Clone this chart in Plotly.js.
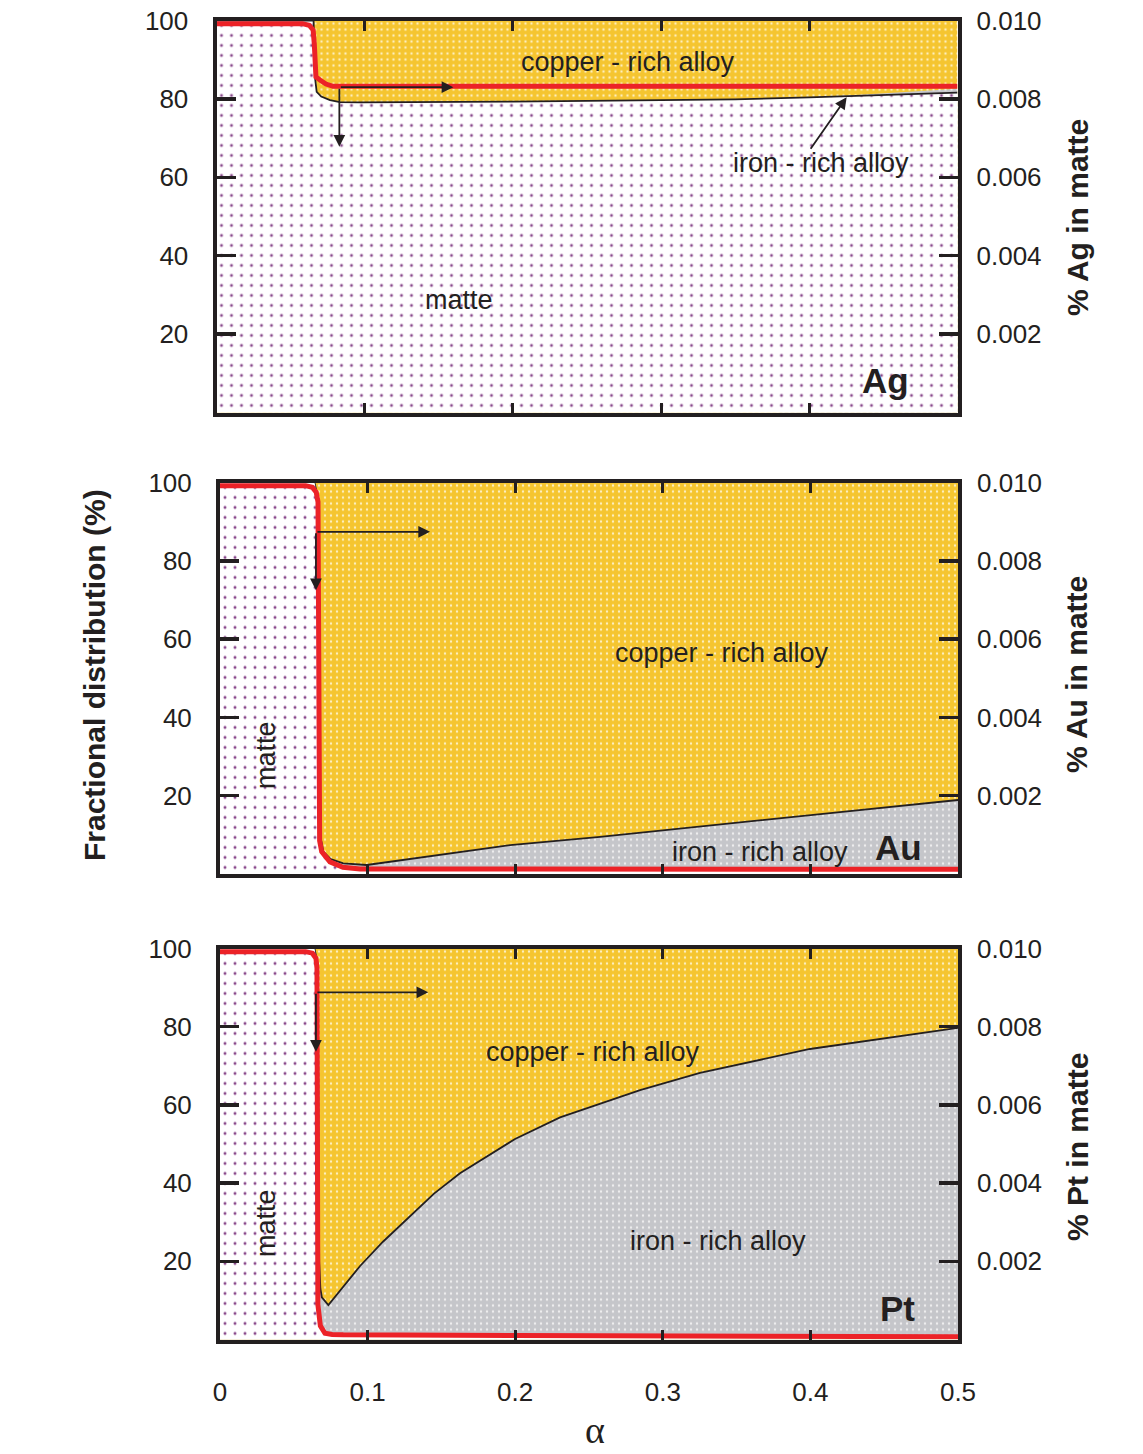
<!DOCTYPE html>
<html><head><meta charset="utf-8">
<script src="https://cdn.plot.ly/plotly-3.0.1.min.js"></script>
<style>html,body{margin:0;padding:0;background:#fff}</style>
</head><body><div id="chart" style="width:1143px;height:1454px"></div>
<script>
// ---------- data (alpha on x; % fractional distribution; % metal in matte) ----------
const alphaFull = [0, 0.5];
const totalPct = [100, 100];

// Ag panel
const agMatteAlpha = [0, 0.0655, 0.0666, 0.0676, 0.0707, 0.0766, 0.0833, 0.0968, 0.2, 0.3, 0.35, 0.4, 0.45, 0.5];
const agMatteTop   = [100, 100, 85, 81.8, 80.6, 79.7, 79.2, 79.1, 79.3, 79.7, 79.9, 80.4, 81.0, 81.6];
const agIronAlpha  = [0.38, 0.41, 0.44, 0.47, 0.5];
const agIronTop    = [80.2, 80.55, 81.2, 81.9, 82.6];
const agRedAlpha   = [0, 0.058, 0.0625, 0.0652, 0.0660, 0.0662, 0.0665, 0.0671, 0.0698, 0.0739, 0.0786, 0.5];
const agInMatte    = [0.00992, 0.00992, 0.00988, 0.00976, 0.0094, 0.0089, 0.00866, 0.00856, 0.00848, 0.00838, 0.00832, 0.00832];

// Au panel
const auMatteAlpha = [0, 0.064, 0.066, 0.0664, 0.0667, 0.0672, 0.0689, 0.0745, 0.0833, 0.095, 0.5];
const auMatteTop   = [100, 100, 97, 60, 20, 9.5, 5.7, 3.1, 1.7, 1.2, 1.1];
const auIronAlpha  = [0, 0.064, 0.0664, 0.0667, 0.0670, 0.0678, 0.0700, 0.0750, 0.0836, 0.0994, 0.15, 0.1965, 0.2575, 0.35, 0.42, 0.5];
const auIronTop    = [100, 100, 96, 60, 25, 10, 5.7, 3.8, 2.7, 2.3, 5.0, 7.4, 9.5, 13.0, 15.8, 18.9];
const auRedAlpha   = [0, 0.058, 0.0625, 0.0652, 0.0664, 0.0666, 0.0667, 0.0669, 0.0675, 0.0689, 0.0745, 0.0833, 0.0949, 0.5];
const auInMatte    = [0.00992, 0.00992, 0.00988, 0.00975, 0.0095, 0.006, 0.003, 0.0012, 0.00085, 0.00057, 0.00031, 0.00017, 0.00013, 0.00012];

// Pt panel
const ptMatteAlpha = [0, 0.064, 0.0658, 0.0662, 0.0665, 0.0670, 0.0685, 0.075, 0.085, 0.5];
const ptMatteTop   = [100, 100, 97, 60, 20, 6, 3, 1.2, 0.8, 0.5];
const ptIronAlpha  = [0, 0.064, 0.0662, 0.0665, 0.0672, 0.0680, 0.0690, 0.0734, 0.0813, 0.0949, 0.1104, 0.1287, 0.145, 0.1626, 0.1999, 0.2304, 0.2846, 0.3252, 0.3997, 0.5];
const ptIronTop    = [100, 100, 96, 60, 20, 13, 10.8, 8.8, 12.5, 18.8, 25.0, 31.6, 37.3, 42.5, 51.3, 56.8, 63.8, 68.2, 74.3, 79.7];
const ptRedAlpha   = [0, 0.058, 0.0625, 0.0650, 0.0657, 0.0659, 0.0660, 0.0663, 0.0680, 0.0711, 0.0760, 0.0835, 0.2, 0.5];
const ptInMatte    = [0.00992, 0.00992, 0.00988, 0.00975, 0.0095, 0.006, 0.002, 0.0009, 0.00035, 0.00016, 0.00013, 0.00012, 0.0001, 0.00007];

// ticks
const xTickVals  = [0, 0.1, 0.2, 0.3, 0.4, 0.5];
const xTickText  = ['0', '0.1', '0.2', '0.3', '0.4', '0.5'];
const leftTickVals  = [20, 40, 60, 80, 100];
const leftTickText  = ['20', '40', '60', '80', '100'];
const rightTickVals = [0.002, 0.004, 0.006, 0.008, 0.010];
const rightTickText = ['0.002', '0.004', '0.006', '0.008', '0.010'];

// ---------- styling ----------
const INK = '#231F20', RED = '#EC2227';
const FONT = 'Liberation Sans, Arial, sans-serif';
const copperPat = {shape: '.', bgcolor: '#F5C530', fgcolor: '#FFFFFF', size: 6, solidity: 0.12, fgopacity: 0.7};
const ironPat   = {shape: '.', bgcolor: '#C5C6CA', fgcolor: '#FFFFFF', size: 6, solidity: 0.12, fgopacity: 0.7};
const mattePat  = {shape: '.', bgcolor: '#FFFFFF', fgcolor: '#8A4A8C', size: 10, solidity: 0.07, fgopacity: 1};

function area(x, y, xa, ya, pat, lineW) {
  return {type: 'scatter', x: x, y: y, xaxis: xa, yaxis: ya,
    mode: lineW > 0 ? 'lines' : 'none', fill: 'tozeroy', fillcolor: pat.bgcolor, fillpattern: pat,
    line: {color: INK, width: lineW}, hoverinfo: 'skip'};
}
function redLine(x, y, xa, ya) {
  return {type: 'scatter', mode: 'lines', x: x, y: y, xaxis: xa, yaxis: ya,
    line: {color: RED, width: 5}, hoverinfo: 'skip'};
}

const traces = [
  area(alphaFull, totalPct, 'x', 'y', copperPat, 0),
  area(agIronAlpha, agIronTop, 'x', 'y', ironPat, 0),
  area(agMatteAlpha, agMatteTop, 'x', 'y', mattePat, 1.8),
  redLine(agRedAlpha, agInMatte, 'x', 'y2'),

  area(alphaFull, totalPct, 'x2', 'y3', copperPat, 0),
  area(auIronAlpha, auIronTop, 'x2', 'y3', ironPat, 1.8),
  area(auMatteAlpha, auMatteTop, 'x2', 'y3', mattePat, 0),
  redLine(auRedAlpha, auInMatte, 'x2', 'y4'),

  area(alphaFull, totalPct, 'x3', 'y5', copperPat, 0),
  area(ptIronAlpha, ptIronTop, 'x3', 'y5', ironPat, 1.8),
  area(ptMatteAlpha, ptMatteTop, 'x3', 'y5', mattePat, 0),
  redLine(ptRedAlpha, ptInMatte, 'x3', 'y6')
];

const tickFont = {family: FONT, size: 26, color: INK};
const xBase = {range: [0, 0.5], showgrid: false, zeroline: false, showline: true, linecolor: INK, linewidth: 4,
  mirror: 'ticks', ticks: 'inside', ticklen: 10, tickwidth: 3, tickcolor: INK,
  tickmode: 'array', tickvals: xTickVals, ticktext: xTickText, showticklabels: false, tickfont: tickFont, fixedrange: true};
const yLeft = {range: [0, 100], showgrid: false, zeroline: false, showline: true, linecolor: INK, linewidth: 4,
  mirror: 'ticks', ticks: 'inside', ticklen: 19, tickwidth: 3.5, tickcolor: INK,
  tickmode: 'array', tickvals: leftTickVals, ticktext: leftTickText, tickfont: tickFont, ticklabelstandoff: 19, fixedrange: true};
const yRight = {range: [0, 0.010], side: 'right', showgrid: false, zeroline: false, showline: false, ticks: '',
  tickmode: 'array', tickvals: rightTickVals, ticktext: rightTickText, tickfont: tickFont, ticklabelstandoff: 18, fixedrange: true};

const DX1 = [216.5 / 1143, 957.5 / 1143], DX2 = [220 / 1143, 958 / 1143];
const H = 1454;
const dy = (top, bot) => [1 - bot / H, 1 - top / H];

function label(px, py, text, size, opts) {
  return Object.assign({xref: 'paper', yref: 'paper', x: px / 1143, y: 1 - py / H, text: text, showarrow: false,
    xanchor: 'center', yanchor: 'middle', font: {family: FONT, size: size, color: INK}}, opts || {});
}
function bold(px, py, text, size, angle) {
  return label(px, py, text, size, {textangle: angle || 0, font: {family: FONT, size: size, color: INK, weight: 'bold'}});
}
function arrow(xa, ya, x0, y0, x1, y1) {
  return {xref: xa, yref: ya, axref: xa, ayref: ya, x: x1, y: y1, ax: x0, ay: y0, text: '', showarrow: true,
    arrowhead: 2, arrowsize: 1.3, arrowwidth: 1.8, arrowcolor: INK, standoff: 0, startstandoff: 0};
}

const annotations = [
  // panel Ag
  label(628, 62, 'copper - rich alloy', 27),
  label(821, 163, 'iron - rich alloy', 27),
  label(459, 300, 'matte', 27),
  bold(885, 381, 'Ag', 35),
  arrow('x', 'y', 0.0829, 83.0, 0.1598, 83.0),
  arrow('x', 'y', 0.0829, 83.0, 0.0829, 67.8),
  arrow('x', 'y', 0.4002, 66.9, 0.4252, 80.4),
  // panel Au
  label(722, 653, 'copper - rich alloy', 27),
  label(760, 852, 'iron - rich alloy', 27),
  label(266, 755, 'matte', 27, {textangle: -90}),
  bold(898, 847, 'Au', 35),
  arrow('x2', 'y3', 0.065, 87.4, 0.1423, 87.4),
  arrow('x2', 'y3', 0.065, 87.4, 0.065, 72.5),
  // panel Pt
  label(593, 1052, 'copper - rich alloy', 27),
  label(718, 1241, 'iron - rich alloy', 27),
  label(266, 1223, 'matte', 27, {textangle: -90}),
  bold(897, 1308, 'Pt', 35),
  arrow('x3', 'y5', 0.065, 88.8, 0.1411, 88.8),
  arrow('x3', 'y5', 0.065, 88.8, 0.065, 73.6),
  // axis titles
  bold(95, 675, 'Fractional distribution (%)', 30, -90),
  bold(1077, 218, '% Ag in matte', 30, -90),
  bold(1077, 675, '% Au in matte', 30, -90),
  bold(1077, 1147, '% Pt in matte', 30, -90),
  label(595, 1453, 'α', 38, {yanchor: 'bottom', font: {family: 'Liberation Serif, DejaVu Serif, serif', size: 38, color: INK}})
];

const layout = {
  width: 1143, height: 1454, margin: {l: 0, r: 0, t: 0, b: 0},
  paper_bgcolor: '#FFFFFF', plot_bgcolor: '#FFFFFF', showlegend: false, hovermode: false,
  xaxis:  Object.assign({}, xBase, {domain: DX1, anchor: 'y'}),
  xaxis2: Object.assign({}, xBase, {domain: DX2, anchor: 'y3'}),
  xaxis3: Object.assign({}, xBase, {domain: DX2, anchor: 'y5', showticklabels: true, ticklabelstandoff: 26}),
  yaxis:  Object.assign({}, yLeft, {domain: dy(20.5, 412.5), anchor: 'x'}),
  yaxis2: Object.assign({}, yRight, {overlaying: 'y', anchor: 'x'}),
  yaxis3: Object.assign({}, yLeft, {domain: dy(482.5, 874), anchor: 'x2'}),
  yaxis4: Object.assign({}, yRight, {overlaying: 'y3', anchor: 'x2'}),
  yaxis5: Object.assign({}, yLeft, {domain: dy(948.5, 1339.5), anchor: 'x3'}),
  yaxis6: Object.assign({}, yRight, {overlaying: 'y5', anchor: 'x3'}),
  annotations: annotations
};

Plotly.newPlot('chart', traces, layout, {staticPlot: true, displayModeBar: false});
</script>
</body></html>
